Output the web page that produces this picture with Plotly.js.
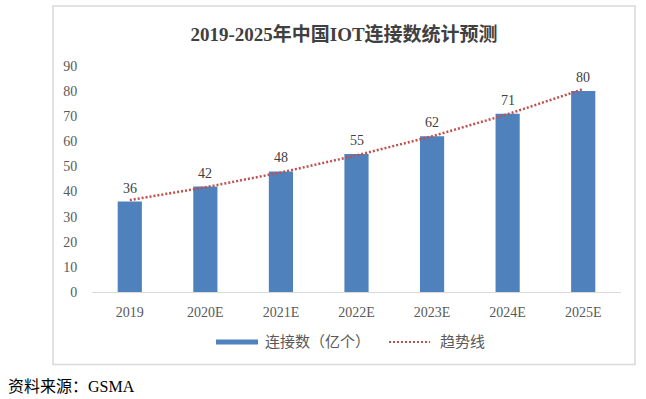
<!DOCTYPE html>
<html><head><meta charset="utf-8">
<script src="https://cdn.plot.ly/plotly-3.0.1.min.js"></script>
<style>html,body{margin:0;padding:0;background:#fff}#chart{width:646px;height:399px}</style>
</head><body><div id="chart"></div>
<script>
const categories = ['2019','2020E','2021E','2022E','2023E','2024E','2025E'];
const connections = [36, 42, 48, 55, 62, 71, 80];
const trendValues = [36.6, 41.7, 47.6, 54.4, 62.0, 70.8, 80.8];
const yTicks = [0,10,20,30,40,50,60,70,80,90];
const seriesName = '连接数（亿个）';
const trendName = '趋势线';
const titleText = '2019-2025年中国IOT连接数统计预测';
const sourceText = '资料来源：GSMA';

const W = 646, H = 399;
const M = {l: 92, r: 25, t: 66, b: 107};
const pw = W - M.l - M.r, ph = H - M.t - M.b;
const px = x => (x - M.l) / pw;
const py = y => (H - M.b - y) / ph;

const serif = '"Liberation Serif", "Times New Roman", serif';
const cjk = '"Liberation Serif", "Noto Sans CJK SC", serif';

const traces = [
  {type: 'bar', x: categories, y: connections, name: seriesName,
   marker: {color: '#4F81BD'}, width: 0.32, hoverinfo: 'x+y'},
  {type: 'scatter', mode: 'lines', x: categories, y: trendValues, name: trendName,
   line: {color: '#C0504D', width: 2.5, dash: '2px,2px'}, hoverinfo: 'skip'}
];

const annotations = categories.map((c, i) => ({
  x: i, y: connections[i], xref: 'x', yref: 'y', text: String(connections[i]),
  showarrow: false, yanchor: 'bottom', yshift: 4,
  font: {family: serif, size: 14, color: '#404040'}
}));
annotations.push(
  {xref: 'paper', yref: 'paper', x: px(263), y: py(342), xanchor: 'left', yanchor: 'middle',
   text: seriesName, showarrow: false, font: {family: cjk, size: 15, color: '#595959'}},
  {xref: 'paper', yref: 'paper', x: px(438), y: py(342), xanchor: 'left', yanchor: 'middle',
   text: trendName, showarrow: false, font: {family: cjk, size: 15, color: '#595959'}},
  {xref: 'paper', yref: 'paper', x: px(6), y: py(386), xanchor: 'left', yanchor: 'middle',
   text: sourceText, showarrow: false, font: {family: cjk, size: 16, color: '#000000'}}
);

const shapes = [
  {type: 'rect', xref: 'paper', yref: 'paper', x0: px(53), x1: px(635), y0: py(6), y1: py(364.5),
   line: {color: '#D9D9D9', width: 1.5}, fillcolor: 'rgba(0,0,0,0)', layer: 'below'},
  {type: 'rect', xref: 'paper', yref: 'paper', x0: px(216), x1: px(258), y0: py(339.5), y1: py(344.5),
   line: {width: 0}, fillcolor: '#4F81BD'},
  {type: 'line', xref: 'paper', yref: 'paper', x0: px(389), x1: px(430), y0: py(342), y1: py(342),
   line: {color: '#C0504D', width: 2, dash: '2px,2px'}}
];

const layout = {
  width: W, height: H, margin: M,
  paper_bgcolor: '#ffffff', plot_bgcolor: '#ffffff',
  showlegend: false,
  title: {text: '<b>' + titleText + '</b>', xref: 'container', yref: 'container',
          x: 344 / W, xanchor: 'center', y: 1 - 34 / H, yanchor: 'middle',
          font: {family: cjk, size: 19, color: '#404040'}},
  xaxis: {type: 'category', categoryorder: 'array', categoryarray: categories, range: [-0.5, categories.length - 0.5],
          showline: true, linecolor: '#D9D9D9', linewidth: 1,
          ticks: 'outside', ticklen: 7, tickcolor: 'rgba(0,0,0,0)', showgrid: false, zeroline: false,
          tickfont: {family: serif, size: 14, color: '#595959'}, fixedrange: true},
  yaxis: {range: [0, 90], tickvals: yTicks, ticktext: yTicks.map(String), showline: false, showgrid: false,
          zeroline: false, ticks: 'outside', ticklen: 11, tickcolor: 'rgba(0,0,0,0)',
          tickfont: {family: serif, size: 14, color: '#595959'}, fixedrange: true},
  annotations: annotations, shapes: shapes
};

Plotly.newPlot('chart', traces, layout, {displayModeBar: false, staticPlot: true});
</script></body></html>
